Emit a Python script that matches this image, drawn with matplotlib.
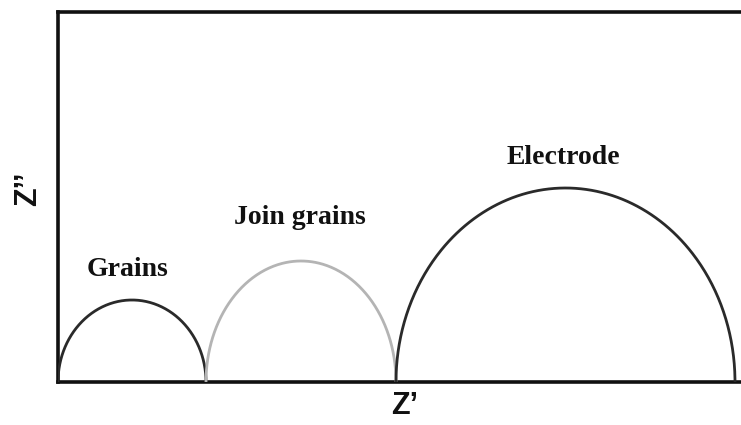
import numpy as np
import matplotlib
matplotlib.use("Agg")
import matplotlib.pyplot as plt

# Arc data (Z' start, Z' end, peak Z'')
arc_names = ["Grains", "Join grains", "Electrode"]
arc_starts = [0, 148, 338]
arc_ends = [148, 338, 677]
arc_heights = [82, 121, 194]
arc_colors = ["#2a2a2a", "#b4b4b4", "#2a2a2a"]
label_x = [70, 242, 505]
label_y = [112, 165, 224]

fig = plt.figure(figsize=(7.41, 4.25), dpi=100)
ax = fig.add_axes([58 / 741, 43 / 425, 1 - 58 / 741, 370 / 425])

for s, e, h, c in zip(arc_starts, arc_ends, arc_heights, arc_colors):
    cx = (s + e) / 2
    r = (e - s) / 2
    t = np.linspace(0, np.pi, 400)
    x = cx - r * np.cos(t)
    y = h * np.sin(t)
    ax.plot(x, y, color=c, lw=2.0, solid_capstyle="butt", zorder=3)

for name, lx, ly in zip(arc_names, label_x, label_y):
    ax.text(lx, ly, name, family="Liberation Serif", fontweight="bold",
            fontsize=20, ha="center", va="center", color="#111111")

ax.set_xlim(0, 683)
ax.set_ylim(0, 370)
ax.set_xticks([])
ax.set_yticks([])
for sp in ["left", "bottom", "top"]:
    ax.spines[sp].set_linewidth(2.6)
    ax.spines[sp].set_color("#111111")
ax.spines["right"].set_visible(False)

fig.text(405 / 741, 1 - 406 / 425, "Z\u2019", family="Liberation Sans",
         fontweight="bold", fontsize=22, ha="center", va="center", color="#111111")
fig.text(28 / 741, 1 - 189 / 425, "Z\u2019\u2019", family="Liberation Sans",
         fontweight="bold", fontsize=22, ha="center", va="center", rotation=90,
         color="#111111")

fig.savefig("out.png", dpi=100)
